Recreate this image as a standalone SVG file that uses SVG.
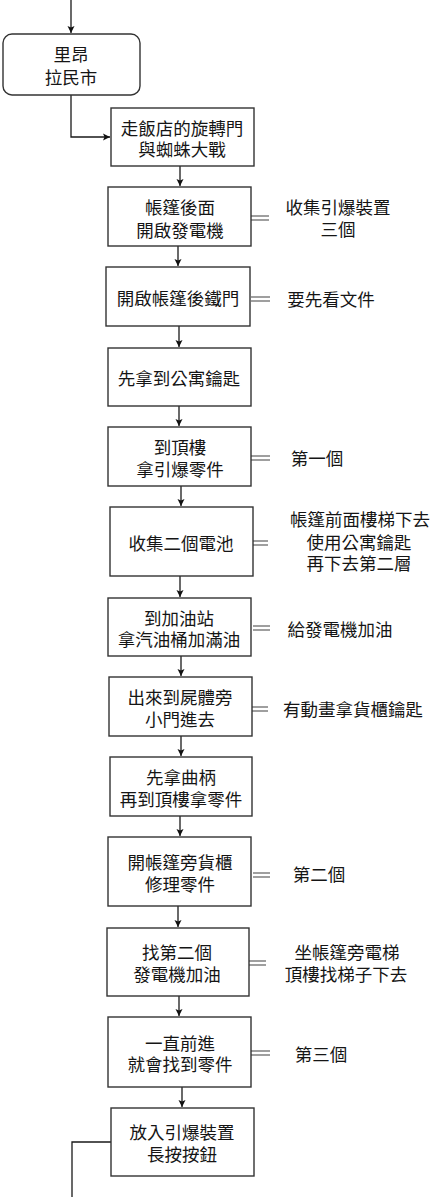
<svg xmlns="http://www.w3.org/2000/svg" width="441" height="1197" viewBox="0 0 441 1197">
<defs>
<marker id="ah" markerWidth="8" markerHeight="8" refX="7" refY="4" orient="auto" markerUnits="userSpaceOnUse">
<path d="M0,0.5 L7,4 L0,7.5 L1.5,4 Z" fill="#111"/>
</marker>
<style>
.box{fill:#fff;stroke:#333;stroke-width:1.4}
.t{font-family:"Noto Sans CJK TC","Noto Sans CJK SC",sans-serif;font-size:17.5px;fill:#151515;text-anchor:middle;dominant-baseline:central}
.c{fill:none;stroke:#1a1a1a;stroke-width:1.3}
.eq{stroke:#808080;stroke-width:1.5}
</style>
</defs>
<rect width="441" height="1197" fill="#fff"/>
<g id="connectors">
<path class="c" d="M71,0 V33" marker-end="url(#ah)"/>
<path class="c" d="M71,95 V137 H110" marker-end="url(#ah)"/>
<path class="c" d="M180,166 V186" marker-end="url(#ah)"/>
<path class="c" d="M178,246 V266" marker-end="url(#ah)"/>
<path class="c" d="M179,326 V347" marker-end="url(#ah)"/>
<path class="c" d="M179,406 V426" marker-end="url(#ah)"/>
<path class="c" d="M181,486 V506" marker-end="url(#ah)"/>
<path class="c" d="M180,576 V597" marker-end="url(#ah)"/>
<path class="c" d="M181,656 V676" marker-end="url(#ah)"/>
<path class="c" d="M181,736 V756" marker-end="url(#ah)"/>
<path class="c" d="M180,816 V836" marker-end="url(#ah)"/>
<path class="c" d="M178,906 V927" marker-end="url(#ah)"/>
<path class="c" d="M179,996 V1016" marker-end="url(#ah)"/>
<path class="c" d="M182,1087 V1107" marker-end="url(#ah)"/>
<path class="c" d="M111,1142 H72 V1197"/>
</g>
<g id="equals">
<path class="eq" d="M251,216 H269 M251,220 H269"/>
<path class="eq" d="M251,297 H270 M251,301 H270"/>
<path class="eq" d="M250,456 H270 M250,460 H270"/>
<path class="eq" d="M253,541 H268 M253,545 H268"/>
<path class="eq" d="M253,626 H270 M253,630 H270"/>
<path class="eq" d="M252,707 H268 M252,711 H268"/>
<path class="eq" d="M253,873 H270 M253,877 H270"/>
<path class="eq" d="M248,961 H266 M248,965 H266"/>
<path class="eq" d="M251,1051 H270 M251,1055 H270"/>
</g>
<g id="n1"><rect class="box" x="3" y="34" width="137" height="61" rx="9"/><text class="t" x="71" y="53">里昂</text><text class="t" x="71" y="76">拉民市</text></g>
<g id="n2"><rect class="box" x="111" y="108" width="143" height="58"/><text class="t" x="182" y="127">走飯店的旋轉門</text><text class="t" x="182" y="148">與蜘蛛大戰</text></g>
<g id="n3"><rect class="box" x="108" y="187" width="143" height="59"/><text class="t" x="180" y="206">帳篷後面</text><text class="t" x="180" y="229">開啟發電機</text></g>
<g id="n4"><rect class="box" x="106" y="267" width="144" height="59"/><text class="t" x="178" y="297">開啟帳篷後鐵門</text></g>
<g id="n5"><rect class="box" x="108" y="348" width="143" height="58"/><text class="t" x="179" y="377">先拿到公寓鑰匙</text></g>
<g id="n6"><rect class="box" x="108" y="427" width="143" height="59"/><text class="t" x="180" y="446">到頂樓</text><text class="t" x="180" y="468">拿引爆零件</text></g>
<g id="n7"><rect class="box" x="110" y="507" width="143" height="69"/><text class="t" x="181" y="542">收集二個電池</text></g>
<g id="n8"><rect class="box" x="108" y="598" width="143" height="58"/><text class="t" x="179" y="617">到加油站</text><text class="t" x="179" y="638">拿汽油桶加滿油</text></g>
<g id="n9"><rect class="box" x="109" y="677" width="143" height="59"/><text class="t" x="180" y="696">出來到屍體旁</text><text class="t" x="180" y="718">小門進去</text></g>
<g id="n10"><rect class="box" x="110" y="757" width="142" height="59"/><text class="t" x="181" y="776">先拿曲柄</text><text class="t" x="181" y="798">再到頂樓拿零件</text></g>
<g id="n11"><rect class="box" x="108" y="837" width="143" height="69"/><text class="t" x="180" y="861">開帳篷旁貨櫃</text><text class="t" x="180" y="883">修理零件</text></g>
<g id="n12"><rect class="box" x="107" y="928" width="142" height="68"/><text class="t" x="177" y="951">找第二個</text><text class="t" x="177" y="973">發電機加油</text></g>
<g id="n13"><rect class="box" x="108" y="1017" width="143" height="70"/><text class="t" x="180" y="1042">一直前進</text><text class="t" x="180" y="1063">就會找到零件</text></g>
<g id="n14"><rect class="box" x="111" y="1108" width="143" height="68"/><text class="t" x="182" y="1131">放入引爆裝置</text><text class="t" x="182" y="1153">長按按鈕</text></g>
<g id="notes">
<text class="t" x="338" y="206">收集引爆裝置</text><text class="t" x="338" y="228">三個</text>
<text class="t" x="331" y="298">要先看文件</text>
<text class="t" x="317" y="457">第一個</text>
<text class="t" x="360" y="518">帳篷前面樓梯下去</text><text class="t" x="359" y="541">使用公寓鑰匙</text><text class="t" x="359" y="562">再下去第二層</text>
<text class="t" x="340" y="628">給發電機加油</text>
<text class="t" x="353" y="708">有動畫拿貨櫃鑰匙</text>
<text class="t" x="319" y="873">第二個</text>
<text class="t" x="347" y="951">坐帳篷旁電梯</text><text class="t" x="346" y="973">頂樓找梯子下去</text>
<text class="t" x="321" y="1053">第三個</text>
</g>
</svg>
